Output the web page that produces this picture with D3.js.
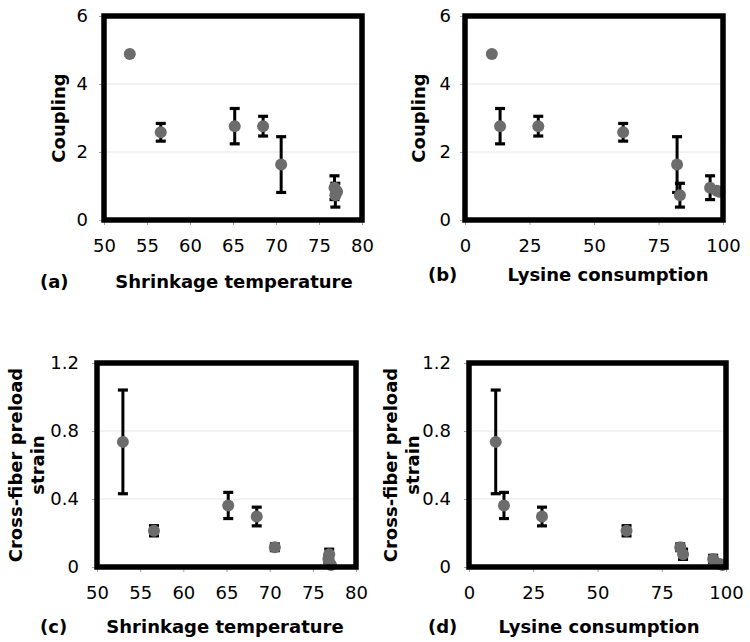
<!DOCTYPE html>
<html lang="en">
<head>
<meta charset="UTF-8">
<title>Coupling and cross-fiber preload strain</title>
<style>
  body { margin: 0; background: #fff; }
  svg { display: block; font-family: "DejaVu Sans", Verdana, sans-serif; }
  .tick-label { font-size: 18px; fill: #000; }
  .title { font-size: 18px; font-weight: bold; fill: #000; }
</style>
</head>
<body>
<div id="chart"></div>
<script src="https://d3js.org/d3.v7.min.js"></script>
<script>
// --- data (9 samples) ---
const shrinkTemp  = [53.0, 56.6, 65.2, 68.5, 70.6, 76.9, 76.8, 77.0, 77.1];
const lysine      = [10.4, 61.3, 13.6, 28.4, 82.2, 83.3, 95.0, 97.6, 98.6];
const coupling    = [4.88, 2.58, 2.76, 2.76, 1.63, 0.73, 0.95, 0.86, 0.83];
const couplingErr = [0.04, 0.26, 0.52, 0.29, 0.82, 0.35, 0.35, 0.04, 0.04];
const strain      = [0.736, 0.213, 0.362, 0.297, 0.116, 0.075, 0.047, 0.018, 0.012];
const strainErr   = [0.305, 0.03, 0.077, 0.055, 0.02, 0.03, 0.022, 0.008, 0.006];

const tempTicks     = [50, 55, 60, 65, 70, 75, 80];
const lysineTicks   = [0, 25, 50, 75, 100];
const couplingTicks = [0, 2, 4, 6];
const strainTicks   = [0, 0.4, 0.8, 1.2];

const svg = d3.select("#chart").append("svg")
    .attr("width", 750)
    .attr("height", 642);

function drawPanel(p) {
  const x = d3.scaleLinear().domain(p.xDomain).range([p.left, p.right]);
  const y = d3.scaleLinear().domain(p.yDomain).range([p.bottom, p.top]);
  const g = svg.append("g");

  // light grid lines
  g.selectAll(".grid")
    .data(p.yTicks.slice(1, -1))
    .join("line")
      .attr("x1", p.left).attr("x2", p.right)
      .attr("y1", d => y(d)).attr("y2", d => y(d))
      .attr("stroke", "#e6e6e6").attr("stroke-width", 1);

  // axes (ticks only, frame drawn separately)
  const xAxis = g.append("g")
      .attr("transform", `translate(0,${p.bottom})`)
      .call(d3.axisBottom(x).tickValues(p.xTicks).tickSize(5).tickPadding(14).tickFormat(d3.format("")));
  const yAxis = g.append("g")
      .attr("transform", `translate(${p.left},0)`)
      .call(d3.axisLeft(y).tickValues(p.yTicks).tickSize(5).tickPadding(p.yPad).tickFormat(p.yFormat));
  [xAxis, yAxis].forEach(a => {
    a.select(".domain").remove();
    a.selectAll(".tick line").attr("stroke", "#a0a0a0");
    a.selectAll(".tick text").attr("class", "tick-label");
    a.attr("font-family", null).attr("font-size", null);
  });

  // error bars
  const eb = g.selectAll(".err")
    .data(p.xs.map((v, i) => ({x: v, y: p.ys[i], e: p.errs[i]})))
    .join("g");
  eb.append("line")
      .attr("x1", d => x(d.x)).attr("x2", d => x(d.x))
      .attr("y1", d => y(d.y - d.e)).attr("y2", d => y(d.y + d.e))
      .attr("stroke", "#000").attr("stroke-width", 3);
  eb.selectAll(".cap")
    .data(d => [{x: d.x, y: d.y - d.e}, {x: d.x, y: d.y + d.e}])
    .join("line")
      .attr("x1", d => x(d.x) - 5).attr("x2", d => x(d.x) + 5)
      .attr("y1", d => y(d.y)).attr("y2", d => y(d.y))
      .attr("stroke", "#000").attr("stroke-width", 3.2);

  // markers
  g.selectAll(".pt")
    .data(p.xs.map((v, i) => ({x: v, y: p.ys[i]})))
    .join("circle")
      .attr("cx", d => x(d.x)).attr("cy", d => y(d.y))
      .attr("r", 6)
      .attr("fill", "#6c6c6c");

  // thick frame
  g.append("rect")
      .attr("x", p.left).attr("y", p.top)
      .attr("width", p.right - p.left).attr("height", p.bottom - p.top)
      .attr("fill", "none").attr("stroke", "#000").attr("stroke-width", 5.5);

  // titles
  g.append("text").attr("class", "title")
      .attr("x", p.xTitleX).attr("y", p.xTitleY).attr("text-anchor", "middle")
      .text(p.xTitle);
  g.append("text").attr("class", "title")
      .attr("x", p.tagX).attr("y", p.xTitleY)
      .text(p.tag);
  const yt = g.append("text").attr("class", "title")
      .attr("text-anchor", "middle")
      .attr("transform", `translate(${p.yTitleX},${(p.top + p.bottom) / 2}) rotate(-90)`);
  p.yTitle.forEach((line, i) => {
    yt.append("tspan").attr("x", 0).attr("dy", i === 0 ? 0 : 22).text(line);
  });
}

const fmtInt = d3.format("");
const fmtDec = d => d === 0 ? "0" : d3.format(".1f")(d);

drawPanel({
  xs: shrinkTemp, ys: coupling, errs: couplingErr,
  xDomain: [50, 80], yDomain: [0, 6], xTicks: tempTicks, yTicks: couplingTicks, yFormat: fmtInt, yPad: 11,
  left: 104, right: 362, top: 16, bottom: 220,
  xTitle: "Shrinkage temperature", xTitleX: 234, xTitleY: 288, tag: "(a)", tagX: 40,
  yTitle: ["Coupling"], yTitleX: 65
});
drawPanel({
  xs: lysine, ys: coupling, errs: couplingErr,
  xDomain: [0, 100], yDomain: [0, 6], xTicks: lysineTicks, yTicks: couplingTicks, yFormat: fmtInt, yPad: 9,
  left: 465, right: 723, top: 16, bottom: 220,
  xTitle: "Lysine consumption", xTitleX: 608, xTitleY: 281, tag: "(b)", tagX: 428,
  yTitle: ["Coupling"], yTitleX: 425
});
drawPanel({
  xs: shrinkTemp, ys: strain, errs: strainErr,
  xDomain: [50, 80], yDomain: [0, 1.2], xTicks: tempTicks, yTicks: strainTicks, yFormat: fmtDec, yPad: 13,
  left: 97, right: 356, top: 363, bottom: 567,
  xTitle: "Shrinkage temperature", xTitleX: 225, xTitleY: 633, tag: "(c)", tagX: 40,
  yTitle: ["Cross-fiber preload", "strain"], yTitleX: 22
});
drawPanel({
  xs: lysine, ys: strain, errs: strainErr,
  xDomain: [0, 100], yDomain: [0, 1.2], xTicks: lysineTicks, yTicks: strainTicks, yFormat: fmtDec, yPad: 13,
  left: 469, right: 726, top: 363, bottom: 567,
  xTitle: "Lysine consumption", xTitleX: 599, xTitleY: 633, tag: "(d)", tagX: 428,
  yTitle: ["Cross-fiber preload", "strain"], yTitleX: 397
});
</script>
</body>
</html>
